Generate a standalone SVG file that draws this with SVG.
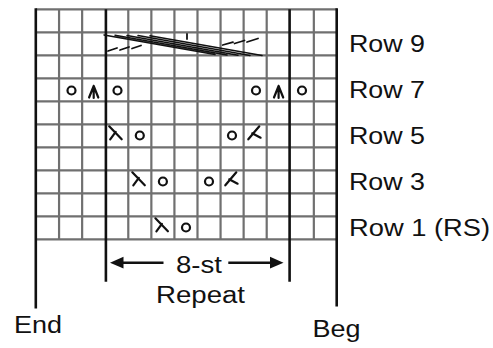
<svg xmlns="http://www.w3.org/2000/svg" width="493" height="348" viewBox="0 0 493 348">
<style>
.grid{stroke:#707070;stroke-width:2.2;fill:none}
.thick{stroke:#111;stroke-width:2.6;fill:none}
.sym{stroke:#111;stroke-width:2.2;fill:none;stroke-linecap:round;stroke-linejoin:round}
.yo{stroke:#111;stroke-width:2.2;fill:none}
.cab{stroke:#111;stroke-width:1.5;fill:none;stroke-linecap:round}
.dash{stroke:#111;stroke-width:1.8;fill:none;stroke-linecap:round}
.lbl{font-family:"Liberation Sans",Arial,sans-serif;font-size:23px;fill:#111}
</style>
<defs>
<symbol id="ssk" overflow="visible"><path class="sym" d="M4,2 L16.5,15 M10.5,7.5 L5,15"/></symbol>
<symbol id="k2t" overflow="visible"><path class="sym" d="M15.7,2 L4.7,15 M8.6,9 L17,13.4"/></symbol>
<symbol id="cdd" overflow="visible"><path class="sym" d="M0,0 L-4.6,11.5 M0,0 L4.6,11.5 M0,0 L0,12"/></symbol>
</defs>
<rect width="493" height="348" fill="#fff"/>
<g id="grid">
<path class="grid" d="M36,9.3H336.9M36,32.3H336.9M36,55.3H336.9M36,78.3H336.9M36,101.3H336.9M36,124.3H336.9M36,147.3H336.9M36,170.3H336.9M36,193.3H336.9M36,216.3H336.9M36,239.3H336.9"/>
<path class="grid" d="M59.07,9.3V239.3M82.14,9.3V239.3M128.28,9.3V239.3M151.35,9.3V239.3M174.42,9.3V239.3M197.49,9.3V239.3M220.56,9.3V239.3M243.63,9.3V239.3M266.7,9.3V239.3M313.84,9.3V239.3"/>
</g>
<g id="connectors">
<path id="end-line" class="thick" d="M35.8,8.3V308.5"/>
<path id="beg-line" class="thick" d="M336.7,8.3V306.5"/>
<path id="rep-left" class="thick" d="M105.9,9.3V281.7"/>
<path id="rep-right" class="thick" d="M289.6,9.3V281.7"/>
<path id="arrow-left" d="M122,262.7H163.5" stroke="#111" stroke-width="2.6"/>
<path d="M110,262.7L123.5,256.8L123.5,268.6Z" fill="#111"/>
<path id="arrow-right" d="M228.3,262.7H271" stroke="#111" stroke-width="2.6"/>
<path d="M283.5,262.7L270,256.8L270,268.6Z" fill="#111"/>
</g>
<g id="row9-cable">
<path class="cab" d="M104,35 L215,54.5 M115,35.2 L227,55 M127,35.4 L238,55.2 M138,35.6 L250,55.4 M150,35.8 L262,55.6"/>
<path class="dash" d="M108,51 L117,48 M120,50 L129,47 M132,48.5 L141,45.5"/>
<path class="dash" d="M222.7,45 L233,42.2 M234.5,43.5 L244.5,40.5 M247,42 L258,38.5"/>
<path class="dash" d="M187,34 V39"/>
</g>
<g id="row7">
<circle class="yo" cx="71.5" cy="90.5" r="4"/>
<use href="#cdd" x="93.7" y="86"/>
<circle class="yo" cx="117.5" cy="90.5" r="4"/>
<circle class="yo" cx="256" cy="90.5" r="4"/>
<use href="#cdd" x="278.6" y="86"/>
<circle class="yo" cx="302" cy="90.5" r="4"/>
</g>
<g id="row5">
<use href="#ssk" x="105.2" y="124.3"/>
<circle class="yo" cx="139.8" cy="135.5" r="4"/>
<circle class="yo" cx="232" cy="135.5" r="4"/>
<use href="#k2t" x="243.6" y="124.3"/>
</g>
<g id="row3">
<use href="#ssk" x="128.3" y="170.3"/>
<circle class="yo" cx="162.9" cy="181.5" r="4"/>
<circle class="yo" cx="209" cy="181.5" r="4"/>
<use href="#k2t" x="220.6" y="170.3"/>
</g>
<g id="row1">
<use href="#ssk" x="151.4" y="216.3"/>
<circle class="yo" cx="186" cy="227.5" r="4"/>
</g>
<g id="labels">
<text class="lbl" x="349" y="52" textLength="76" lengthAdjust="spacingAndGlyphs">Row 9</text>
<text class="lbl" x="349" y="98" textLength="76" lengthAdjust="spacingAndGlyphs">Row 7</text>
<text class="lbl" x="349" y="144" textLength="76" lengthAdjust="spacingAndGlyphs">Row 5</text>
<text class="lbl" x="349" y="190" textLength="76" lengthAdjust="spacingAndGlyphs">Row 3</text>
<text class="lbl" x="349" y="236" textLength="141" lengthAdjust="spacingAndGlyphs">Row 1 (RS)</text>
<text class="lbl" x="176" y="273.3" textLength="46" lengthAdjust="spacingAndGlyphs">8-st</text>
<text class="lbl" x="156" y="303.3" textLength="89" lengthAdjust="spacingAndGlyphs">Repeat</text>
<text class="lbl" x="14" y="332.7" textLength="48" lengthAdjust="spacingAndGlyphs">End</text>
<text class="lbl" x="312.5" y="336.7" textLength="48" lengthAdjust="spacingAndGlyphs">Beg</text>
</g>
</svg>
